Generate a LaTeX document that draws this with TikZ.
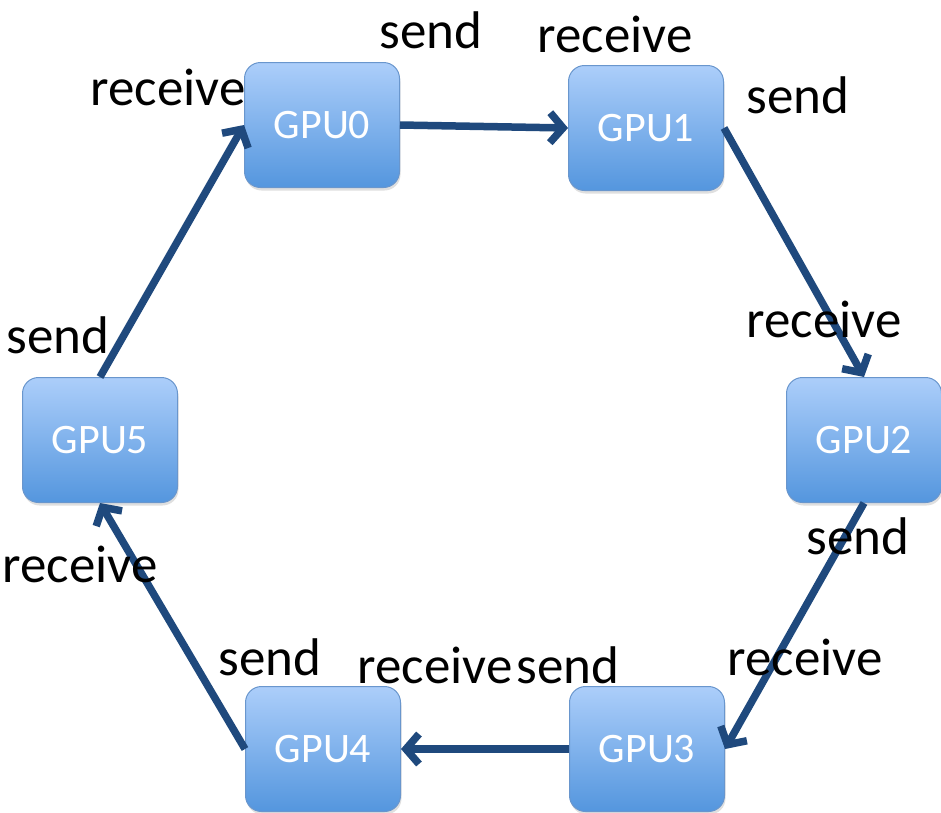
\documentclass[tikz,border=0pt]{standalone}
\usepackage{fontspec}
\setmainfont{Carlito}
\usepackage{tikz}
\usetikzlibrary{arrows.meta, positioning, shadows}

\definecolor{gpuTop}{RGB}{172,206,250}
\definecolor{gpuBot}{RGB}{84,150,222}
\definecolor{gpuEdge}{RGB}{105,150,205}
\definecolor{ringBlue}{RGB}{31,73,125}

\begin{document}
\begin{tikzpicture}[
  x=1pt, y=-1pt,
  gpu/.style={rectangle, rounded corners=16pt, draw=gpuEdge, line width=1pt,
    top color=gpuTop, bottom color=gpuBot, minimum width=155pt, minimum height=125pt,
    text=white, font=\fontsize{42}{46}\selectfont,
    drop shadow={opacity=0.25, shadow xshift=1pt, shadow yshift=-3pt}},
  lbl/.style={anchor=base, inner sep=0pt, font=\fontsize{53}{58}\selectfont},
  arrow/.style={-{Straight Barb[length=13pt, width=30pt]}, line width=7.5pt, color=ringBlue}
]
\useasboundingbox (0,0) rectangle (941,812);

\node (gpu0) [gpu] at (322,125) {GPU0};
\node (gpu1) [gpu] at (646,128) {GPU1};
\node (gpu2) [gpu] at (864,440) {GPU2};
\node (gpu3) [gpu] at (647,749) {GPU3};
\node (gpu4) [gpu] at (323,749) {GPU4};
\node (gpu5) [gpu] at (100,440) {GPU5};

% ring connections
\draw[arrow] (gpu0.east) -- (gpu1.west);
\draw[arrow] (gpu1.east) -- (gpu2.north);
\draw[arrow] (gpu2.south) -- (gpu3.east);
\draw[arrow] (gpu3.west) -- (gpu4.east);
\draw[arrow] (gpu4.west) -- (gpu5.south);
\draw[arrow] (gpu5.north) -- (gpu0.west);

% send / receive labels
\node (s0) [lbl] at (431,48) {send};
\node (r1) [lbl] at (615,52) {receive};
\node (r0) [lbl] at (168,105) {receive};
\node (s1) [lbl] at (798,113) {send};
\node (r2) [lbl] at (824,337) {receive};
\node (s5) [lbl] at (58,353) {send};
\node (s2) [lbl] at (858,554) {send};
\node (r5) [lbl] at (80,582) {receive};
\node (r3) [lbl] at (805,675) {receive};
\node (s4) [lbl] at (270,675) {send};
\node (r4) [lbl] at (435,683) {receive};
\node (s3) [lbl] at (568,683) {send};

\end{tikzpicture}
\end{document}
